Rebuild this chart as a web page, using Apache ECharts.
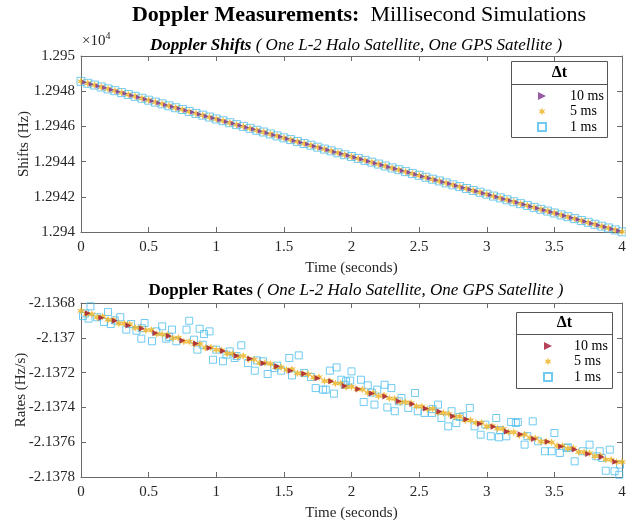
<!DOCTYPE html>
<html><head><meta charset="utf-8">
<script src="https://cdn.jsdelivr.net/npm/echarts@6/dist/echarts.min.js"></script>
<style>html,body{margin:0;padding:0;background:#fff}#c{width:626px;height:527px}</style>
</head><body><div id="c"></div>
<script>
// ---------------- data ----------------
// Top panel: Doppler shifts in Hz
const shiftStep = 0.05;          // s, sampling of plotted 1 ms / 5 ms markers
const shift10Offset = 0.025;     // s, first plotted 10 ms marker
const shift1ms = [12948.56,12948.45,12948.35,12948.24,12948.13,12948.03,12947.92,12947.81,12947.71,12947.60,
12947.49,12947.38,12947.28,12947.17,12947.06,12946.96,12946.85,12946.74,12946.64,12946.53,
12946.42,12946.32,12946.21,12946.10,12946.00,12945.89,12945.78,12945.68,12945.57,12945.46,
12945.35,12945.25,12945.14,12945.03,12944.93,12944.82,12944.71,12944.61,12944.50,12944.39,
12944.29,12944.18,12944.07,12943.97,12943.86,12943.75,12943.64,12943.54,12943.43,12943.32,
12943.22,12943.11,12943.00,12942.90,12942.79,12942.68,12942.58,12942.47,12942.36,12942.26,
12942.15,12942.04,12941.94,12941.83,12941.72,12941.61,12941.51,12941.40,12941.29,12941.19,
12941.08,12940.97,12940.87,12940.76,12940.65,12940.55,12940.44,12940.33,12940.23,12940.12,12940.01];
const shift5ms = [12948.56,12948.45,12948.35,12948.24,12948.13,12948.03,12947.92,12947.81,12947.71,12947.60,
12947.49,12947.38,12947.28,12947.17,12947.06,12946.96,12946.85,12946.74,12946.64,12946.53,
12946.42,12946.32,12946.21,12946.10,12946.00,12945.89,12945.78,12945.68,12945.57,12945.46,
12945.35,12945.25,12945.14,12945.03,12944.93,12944.82,12944.71,12944.61,12944.50,12944.39,
12944.29,12944.18,12944.07,12943.97,12943.86,12943.75,12943.64,12943.54,12943.43,12943.32,
12943.22,12943.11,12943.00,12942.90,12942.79,12942.68,12942.58,12942.47,12942.36,12942.26,
12942.15,12942.04,12941.94,12941.83,12941.72,12941.61,12941.51,12941.40,12941.29,12941.19,
12941.08,12940.97,12940.87,12940.76,12940.65,12940.55,12940.44,12940.33,12940.23,12940.12,12940.01];
const shift10ms = [12948.51,12948.40,12948.29,12948.19,12948.08,12947.97,12947.87,12947.76,12947.65,12947.54,
12947.44,12947.33,12947.22,12947.12,12947.01,12946.90,12946.80,12946.69,12946.58,12946.48,
12946.37,12946.26,12946.16,12946.05,12945.94,12945.84,12945.73,12945.62,12945.51,12945.41,
12945.30,12945.19,12945.09,12944.98,12944.87,12944.77,12944.66,12944.55,12944.45,12944.34,
12944.23,12944.13,12944.02,12943.91,12943.81,12943.70,12943.59,12943.48,12943.38,12943.27,
12943.16,12943.06,12942.95,12942.84,12942.74,12942.63,12942.52,12942.42,12942.31,12942.20,
12942.10,12941.99,12941.88,12941.78,12941.67,12941.56,12941.45,12941.35,12941.24,12941.13,
12941.03,12940.92,12940.81,12940.71,12940.60,12940.49,12940.39,12940.28,12940.17,12940.07];

// Bottom panel: Doppler rates in Hz/s
const rate5Step = 0.04;
const rate5ms = [-2.136845,-2.136863,-2.136864,-2.136882,-2.136878,-2.136896,-2.136898,-2.136918,-2.136918,-2.136922,
-2.136942,-2.136943,-2.136957,-2.136955,-2.136978,-2.136980,-2.136984,-2.137002,-2.137000,-2.137021,
-2.137022,-2.137036,-2.137035,-2.137057,-2.137055,-2.137069,-2.137071,-2.137090,-2.137091,-2.137108,
-2.137104,-2.137122,-2.137124,-2.137144,-2.137144,-2.137149,-2.137168,-2.137169,-2.137184,-2.137181,
-2.137204,-2.137206,-2.137210,-2.137228,-2.137226,-2.137248,-2.137248,-2.137262,-2.137262,-2.137283,
-2.137281,-2.137295,-2.137297,-2.137316,-2.137317,-2.137335,-2.137330,-2.137348,-2.137351,-2.137370,
-2.137370,-2.137375,-2.137394,-2.137395,-2.137410,-2.137408,-2.137430,-2.137432,-2.137437,-2.137454,
-2.137452,-2.137474,-2.137474,-2.137488,-2.137488,-2.137510,-2.137507,-2.137521,-2.137524,-2.137542,
-2.137543,-2.137561,-2.137556,-2.137574,-2.137577,-2.137597,-2.137596,-2.137601,-2.137621,-2.137621,
-2.137636,-2.137634,-2.137656,-2.137658,-2.137663,-2.137681,-2.137678,-2.137700,-2.137701,-2.137714,-2.137714];
const rate10Step = 0.1, rate10Offset = 0.05;
const rate10ms = [-2.136859,-2.136885,-2.136902,-2.136929,-2.136946,-2.136972,-2.136989,-2.137016,-2.137033,-2.137059,
-2.137076,-2.137103,-2.137120,-2.137146,-2.137163,-2.137190,-2.137207,-2.137233,-2.137250,-2.137277,
-2.137294,-2.137320,-2.137337,-2.137364,-2.137381,-2.137407,-2.137424,-2.137451,-2.137468,-2.137494,
-2.137511,-2.137538,-2.137555,-2.137581,-2.137598,-2.137625,-2.137642,-2.137668,-2.137685,-2.137712];
const rate1msTimes = [0.015,0.03,0.056,0.07,0.12,0.17,0.20,0.22,0.25,0.29,0.335,0.37,0.41,0.446,0.45,0.47,0.525,0.557,0.60,0.63,
0.65,0.673,0.705,0.78,0.80,0.835,0.86,0.877,0.90,0.91,0.95,0.976,1.00,1.05,1.075,1.10,1.136,1.15,1.185,1.235,
1.285,1.30,1.345,1.38,1.43,1.45,1.48,1.54,1.56,1.61,1.65,1.70,1.735,1.79,1.81,1.84,1.87,1.89,1.925,1.95,
1.96,1.99,2.00,2.07,2.09,2.12,2.15,2.17,2.19,2.245,2.265,2.295,2.32,2.35,2.37,2.42,2.47,2.49,2.54,2.595,
2.60,2.64,2.665,2.715,2.74,2.775,2.80,2.825,2.875,2.91,2.955,2.99,3.03,3.07,3.09,3.10,3.145,3.18,3.215,3.23,
3.28,3.30,3.34,3.38,3.43,3.48,3.50,3.54,3.59,3.60,3.65,3.71,3.76,3.81,3.835,3.85,3.88,3.91,3.945,3.98,3.985];
const rate1msValues = [-2.136875,-2.136860,-2.136890,-2.136819,-2.136882,-2.136909,-2.136852,-2.136921,-2.136900,-2.136882,
-2.136953,-2.136921,-2.136959,-2.137005,-2.136945,-2.136915,-2.137020,-2.136963,-2.136934,-2.137005,
-2.136995,-2.136953,-2.137020,-2.136953,-2.136902,-2.137011,-2.137068,-2.136948,-2.137040,-2.136978,
-2.136963,-2.137126,-2.137068,-2.137135,-2.137097,-2.137078,-2.137116,-2.137105,-2.137043,-2.137145,
-2.137189,-2.137130,-2.137135,-2.137208,-2.137174,-2.137160,-2.137189,-2.137116,-2.137216,-2.137101,
-2.137202,-2.137225,-2.137289,-2.137298,-2.137298,-2.137189,-2.137321,-2.137170,-2.137241,-2.137270,
-2.137250,-2.137246,-2.137193,-2.137241,-2.137369,-2.137273,-2.137315,-2.137384,-2.137298,-2.137270,
-2.137400,-2.137289,-2.137422,-2.137365,-2.137346,-2.137403,-2.137317,-2.137422,-2.137432,-2.137432,
-2.137410,-2.137384,-2.137461,-2.137509,-2.137422,-2.137490,-2.137455,-2.137451,-2.137403,-2.137509,
-2.137557,-2.137499,-2.137566,-2.137461,-2.137572,-2.137530,-2.137566,-2.137484,-2.137490,-2.137484,
-2.137614,-2.137565,-2.137480,-2.137595,-2.137652,-2.137652,-2.137547,-2.137662,-2.137633,-2.137630,
-2.137710,-2.137652,-2.137614,-2.137681,-2.137652,-2.137690,-2.137764,-2.137643,-2.137767,-2.137787,-2.137729];

const shiftTicks = {min:12940, max:12950, interval:2};
const rateTicks  = {min:-21378, max:-21368, interval:2};   // in 1e-4 Hz/s
const timeTicks  = {min:0, max:4, interval:0.5};
const legendLabels = {s10:'10 ms', s5:'5 ms', s1:'1 ms', r10:'10 ms', r5:'5 ms', r1:'1 ms'};

// ---------------- chart ----------------
const serif = '"Liberation Serif","Times New Roman",serif';
const COL = {purple:'#7E2F8E', red:'#A2142F', orange:'#EDB120', blue:'#4DBEEE'};
const axisCol = '#6a6a6a', labelCol = '#262626';
const starPath = 'path://M0,-10L2.4,-3.6L8.7,-5L4.6,0L8.7,5L2.4,3.6L0,10L-2.4,3.6L-8.7,5L-4.6,0L-8.7,-5L-2.4,-3.6Z';
const triPath = 'path://M0,0L10,5L0,10Z';

const chart = echarts.init(document.getElementById('c'));

function xAxes(gi) {
  const base = {gridIndex:gi, type:'value', min:timeTicks.min, max:timeTicks.max, interval:timeTicks.interval,
    axisLine:{show:true, onZero:false, lineStyle:{color:axisCol, width:1}},
    axisTick:{show:true, inside:true, length:5, lineStyle:{color:axisCol}},
    splitLine:{show:false}};
  return [
    Object.assign({}, base, {position:'bottom',
      axisLabel:{show:true, margin:8, color:labelCol, fontFamily:serif, fontSize:15},
      name:'Time (seconds)', nameLocation:'middle', nameGap:29, nameMoveOverlap:false,
      nameTextStyle:{color:labelCol, fontFamily:serif, fontSize:15}}),
    Object.assign({}, base, {position:'top', axisLabel:{show:false}})
  ];
}
function yAxes(gi, ticks, name, nameGap) {
  const base = {gridIndex:gi, type:'value', min:ticks.min, max:ticks.max, interval:ticks.interval,
    axisLine:{show:true, onZero:false, lineStyle:{color:axisCol, width:1}},
    axisTick:{show:true, inside:true, length:5, lineStyle:{color:axisCol}},
    splitLine:{show:false}};
  return [
    Object.assign({}, base, {position:'left',
      axisLabel:{show:true, margin:6, color:labelCol, fontFamily:serif, fontSize:15,
        formatter: v => String(Math.round(v)/10000)},
      name:name, nameLocation:'middle', nameGap:nameGap, nameMoveOverlap:false,
      nameTextStyle:{color:labelCol, fontFamily:serif, fontSize:15}}),
    Object.assign({}, base, {position:'right', axisLabel:{show:false}})
  ];
}

const squareStyle = {color:'transparent', borderColor:COL.blue, borderWidth:1};

const series = [
  {name:'s1', type:'scatter', xAxisIndex:0, yAxisIndex:0, symbol:'rect', symbolSize:8,
    itemStyle:squareStyle, data: shift1ms.map((v,i)=>[i*shiftStep, v]), z:2},
  {name:'s5', type:'scatter', xAxisIndex:0, yAxisIndex:0, symbol:starPath, symbolSize:8,
    itemStyle:{color:COL.orange}, data: shift5ms.map((v,i)=>[i*shiftStep, v]), z:3},
  {name:'s10', type:'scatter', xAxisIndex:0, yAxisIndex:0, symbol:triPath, symbolSize:5,
    itemStyle:{color:COL.purple}, data: shift10ms.map((v,i)=>[shift10Offset + i*shiftStep, v]), z:4},
  {name:'r1', type:'scatter', xAxisIndex:2, yAxisIndex:2, symbol:'rect', symbolSize:7,
    itemStyle:squareStyle, data: rate1msTimes.map((t,i)=>[t, rate1msValues[i]*10000]), z:2},
  {name:'r5', type:'scatter', xAxisIndex:2, yAxisIndex:2, symbol:starPath, symbolSize:8,
    itemStyle:{color:COL.orange}, data: rate5ms.map((v,i)=>[i*rate5Step, v*10000]), z:3},
  {name:'r10', type:'scatter', xAxisIndex:2, yAxisIndex:2, symbol:triPath, symbolSize:6,
    itemStyle:{color:COL.red}, data: rate10ms.map((v,i)=>[rate10Offset + i*rate10Step, v*10000]), z:4}
];

function legend(names, left, top, pad) {
  return {orient:'vertical', left:left, top:top, padding:0, itemWidth:8, itemHeight:8, itemGap:1.5,
    selectedMode:false, data:names,
    formatter: n => '{t|' + legendLabels[n] + '}',
    textStyle:{rich:{t:{padding:[0,0,0,pad], lineHeight:17, fontFamily:serif, fontSize:14, color:'#000'}}}};
}

const boxStroke = '#555';
const option = {
  animation:false,
  backgroundColor:'#fff',
  grid:[
    {left:81, right:4, top:56, height:176, outerBoundsMode:'none', containLabel:false},
    {left:81, right:4, top:303, height:174, outerBoundsMode:'none', containLabel:false}
  ],
  xAxis:[...xAxes(0), ...xAxes(1)],
  yAxis:[...yAxes(0, shiftTicks, 'Shifts (Hz)', 49), ...yAxes(1, rateTicks, 'Rates (Hz/s)', 52)],
  series:series,
  legend:[legend(['s10','s5','s1'], 537, 89, 19), legend(['r10','r5','r1'], 543, 339, 17)],
  graphic:[
    {type:'text', x:359, y:15, style:{align:'center', verticalAlign:'middle',
      text:'{b|Doppler Measurements:}{n|  Millisecond Simulations}',
      rich:{b:{fontFamily:serif, fontSize:22, fontWeight:'bold', fill:'#000'},
            n:{fontFamily:serif, fontSize:22, fill:'#000'}}}},
    {type:'text', x:356, y:46, style:{align:'center', verticalAlign:'middle',
      text:'{b|Doppler Shifts}{n| ( One L-2 Halo Satellite, One GPS Satellite )}',
      rich:{b:{fontFamily:serif, fontSize:17, fontWeight:'bold', fontStyle:'italic', fill:'#000'},
            n:{fontFamily:serif, fontSize:17, fontStyle:'italic', fill:'#000'}}}},
    {type:'text', x:356, y:291, style:{align:'center', verticalAlign:'middle',
      text:'{b|Doppler Rates}{n| ( One L-2 Halo Satellite, One GPS Satellite )}',
      rich:{b:{fontFamily:serif, fontSize:17, fontWeight:'bold', fill:'#000'},
            n:{fontFamily:serif, fontSize:17, fontStyle:'italic', fill:'#000'}}}},
    {type:'text', x:82, y:49, style:{verticalAlign:'bottom',
      text:'{a|×10}{s|4}',
      rich:{a:{fontFamily:serif, fontSize:15, fill:labelCol, verticalAlign:'bottom'},
            s:{fontFamily:serif, fontSize:10, fill:labelCol, verticalAlign:'top', padding:[0,0,8,0]}}}},
    // legend boxes
    {type:'rect', shape:{x:511.5, y:61.5, width:96, height:76}, style:{fill:'#fff', stroke:boxStroke, lineWidth:1}},
    {type:'line', shape:{x1:511.5, y1:84.5, x2:607.5, y2:84.5}, style:{stroke:boxStroke, lineWidth:1}},
    {type:'text', x:559.5, y:73, style:{text:'Δt', align:'center', verticalAlign:'middle', fontFamily:serif, fontSize:16, fontWeight:'bold', fill:'#000'}},
    {type:'rect', shape:{x:516.5, y:312.5, width:96, height:76}, style:{fill:'#fff', stroke:boxStroke, lineWidth:1}},
    {type:'line', shape:{x1:516.5, y1:334.5, x2:612.5, y2:334.5}, style:{stroke:boxStroke, lineWidth:1}},
    {type:'text', x:564.5, y:323, style:{text:'Δt', align:'center', verticalAlign:'middle', fontFamily:serif, fontSize:16, fontWeight:'bold', fill:'#000'}}
  ]
};
chart.setOption(option);
</script>
</body></html>
